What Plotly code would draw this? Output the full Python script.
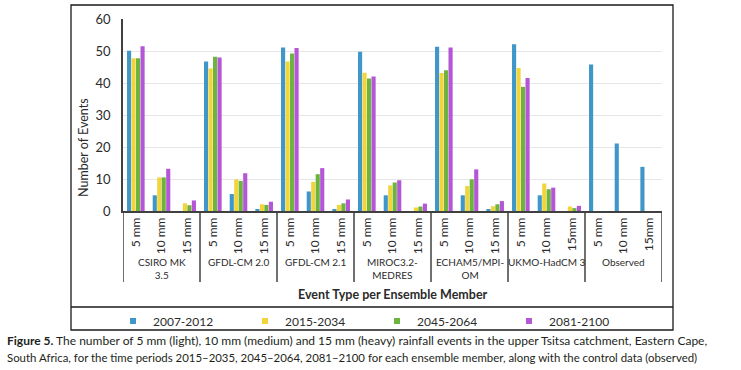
import plotly.graph_objects as go

groups = ["CSIRO MK<br>3.5", "GFDL-CM 2.0", "GFDL-CM 2.1", "MIROC3.2-<br>MEDRES",
          "ECHAM5/MPI-<br>OM", "UKMO-HadCM 3", "Observed"]
event_types = [["5 mm", "10 mm", "15 mm"]] * 5 + [["5 mm", "10 mm", "15mm"]] * 2
tick_labels = [t for g in event_types for t in g]

series_names = ["2007-2012", "2015-2034", "2045-2064", "2081-2100"]
s2007 = [50.1, 4.9, 0, 46.7, 5.3, 0.6, 51.1, 6.1, 0.6, 49.8, 4.9, 0,
         51.3, 4.9, 0.5, 52.1, 4.9, 0, 45.8, 21.1, 13.8]
s2015 = [47.7, 10.5, 2.4, 44.5, 9.9, 2.1, 46.7, 9.1, 1.9, 43.2, 8.0, 1.1,
         43.1, 7.8, 1.5, 44.7, 8.6, 1.4, None, None, None]
s2045 = [47.7, 10.5, 1.8, 48.2, 9.4, 1.9, 49.2, 11.5, 2.4, 41.4, 8.9, 1.4,
         44.0, 9.9, 2.1, 38.8, 6.8, 0.9, None, None, None]
s2081 = [51.5, 13.2, 3.3, 48.0, 11.8, 2.9, 50.9, 13.4, 3.6, 42.0, 9.6, 2.3,
         51.1, 13.0, 3.1, 41.6, 7.3, 1.6, None, None, None]
series_values = [s2007, s2015, s2045, s2081]
colors = ["#3f96c8", "#f1d53b", "#6cb33f", "#b456d6"]

y_ticks = [0, 10, 20, 30, 40, 50, 60]

FONT = "Lato"
TXT = "#2b2b2b"

W, H = 741, 370
L, R, T, B = 123, 662, 19, 211  # plot area in pixels


def px_x(p):
    return (p - L) / (R - L)


def px_y(p):
    return (B - p) / (B - T)


xs = list(range(len(tick_labels)))

fig = go.Figure()
for name, vals, col in zip(series_names, series_values, colors):
    fig.add_trace(go.Bar(x=xs, y=vals, name=name, marker_color=col,
                         marker_line_width=0, showlegend=False, legendgroup=name))
    fig.add_trace(go.Scatter(x=[None], y=[None], mode="markers", name=name,
                             marker=dict(symbol="square", size=6, color=col),
                             legendgroup=name, showlegend=True))

fig.update_layout(
    width=W, height=H,
    margin=dict(l=L, r=W - R, t=T, b=H - B, autoexpand=False),
    paper_bgcolor="white", plot_bgcolor="white",
    barmode="group", bargap=0.3, bargroupgap=0.08,
    font=dict(family=FONT, size=12, color=TXT),
    showlegend=True,
    legend=dict(orientation="h", x=px_x(113), xanchor="left",
                y=px_y(321), yanchor="middle",
                entrywidth=87, entrywidthmode="pixels",
                font=dict(family=FONT, size=12, color=TXT),
                bgcolor="rgba(0,0,0,0)"),
)

fig.update_xaxes(
    range=[-0.5, len(xs) - 0.5], tickmode="array", tickvals=xs, ticktext=tick_labels,
    tickangle=-90, showgrid=False, showline=True, linecolor="#404040", linewidth=1.5,
    ticks="", tickfont=dict(family=FONT, size=12, color=TXT), automargin=False,
    zeroline=False,
)
fig.update_yaxes(
    range=[0, 60], tickmode="array", tickvals=y_ticks, showgrid=True,
    gridcolor="#e6e6e6", gridwidth=1, showline=True, linecolor="#404040", linewidth=1.5,
    zeroline=False, ticks="", ticklabelstandoff=8,
    tickfont=dict(family=FONT, size=13, color=TXT), automargin=False,
)

shapes = []
# group dividers below the axis
for i in range(len(groups) + 1):
    xv = i * 3 - 0.5
    shapes.append(dict(type="line", xref="x", yref="paper", x0=xv, x1=xv,
                       y0=0, y1=px_y(282), line=dict(color="#404040", width=1.5)))
# outer chart box and legend separator
shapes.append(dict(type="rect", xref="paper", yref="paper",
                   x0=px_x(71), x1=px_x(673), y0=px_y(330), y1=px_y(5),
                   line=dict(color="#1a1a1a", width=1.3), fillcolor="rgba(0,0,0,0)"))
shapes.append(dict(type="line", xref="paper", yref="paper",
                   x0=px_x(71), x1=px_x(673), y0=px_y(307), y1=px_y(307),
                   line=dict(color="#1a1a1a", width=1.3)))
fig.update_layout(shapes=shapes)

ann = []
for i, g in enumerate(groups):
    ann.append(dict(x=i * 3 + 1, xref="x", y=px_y(254), yref="paper", text=g,
                    showarrow=False, yanchor="top", xanchor="center",
                    font=dict(family=FONT, size=10, color=TXT)))
ann.append(dict(x=0.5, xref="paper", xanchor="center", y=px_y(294), yref="paper",
                yanchor="middle",
                text="<b>Event Type per Ensemble Member</b>", showarrow=False,
                font=dict(family=FONT, size=12.5, color=TXT)))
ann.append(dict(x=px_x(83), xref="paper", xanchor="center", y=px_y(148), yref="paper",
                yanchor="middle",
                text="Number of Events", textangle=-90, showarrow=False,
                font=dict(family=FONT, size=12.5, color=TXT)))
ann.append(dict(x=px_x(5), xref="paper", xanchor="left", y=px_y(340), yref="paper",
                yanchor="middle",
                text="<b>Figure 5.</b> The number of 5 mm (light), 10 mm (medium) and 15 mm (heavy) "
                     "rainfall events in the upper Tsitsa catchment, Eastern Cape,",
                showarrow=False, font=dict(family=FONT, size=12, color="#231f20")))
ann.append(dict(x=px_x(5), xref="paper", xanchor="left", y=px_y(357), yref="paper",
                yanchor="middle",
                text="South Africa, for the time periods 2015\u20132035, 2045\u20132064, 2081\u20132100 "
                     "for each ensemble member, along with the control data (observed)",
                showarrow=False, font=dict(family=FONT, size=11.4, color="#231f20")))
fig.update_layout(annotations=ann)

fig.write_html("out.html", config={"displayModeBar": False},
               post_script="document.body.style.margin='0';")
